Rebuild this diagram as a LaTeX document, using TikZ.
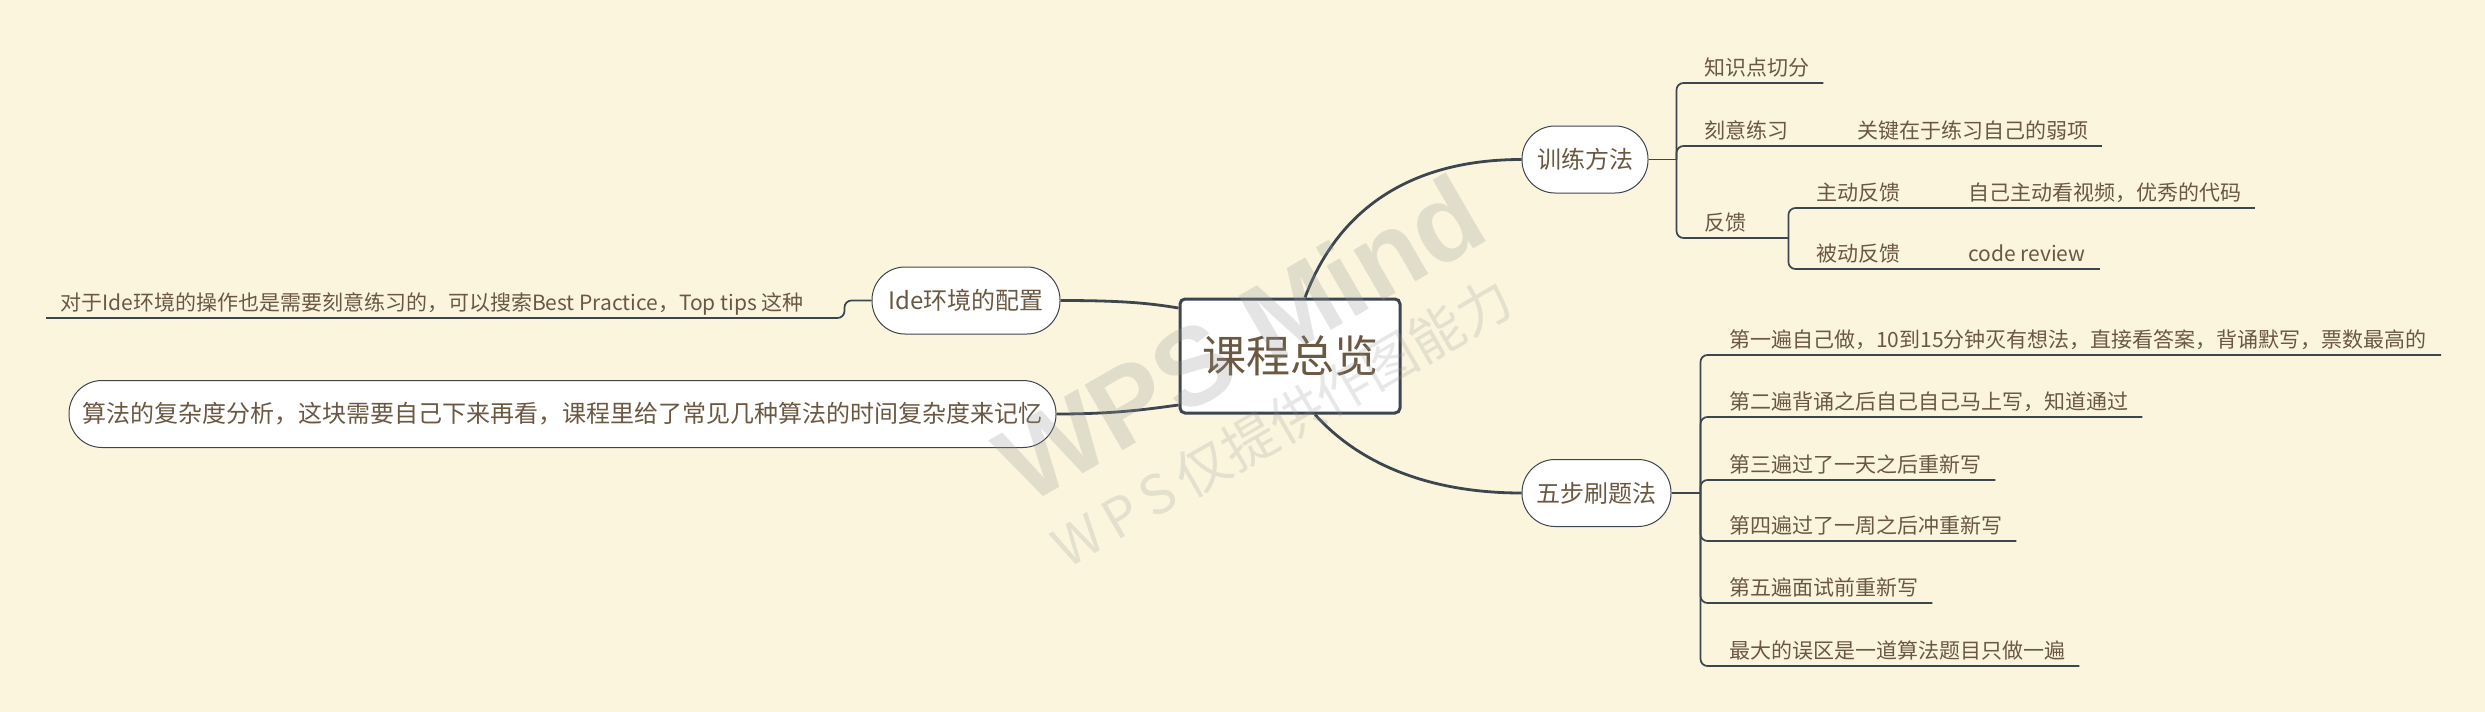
\documentclass[tikz,border=0pt]{standalone}
\usepackage{fontspec}
\setmainfont{Noto Sans CJK SC}
\newfontfamily\wmfont{Liberation Sans}
\usetikzlibrary{calc}
\definecolor{bg}{HTML}{FBF5DE}
\definecolor{ink}{HTML}{6B5842}
\definecolor{ln}{HTML}{3D464E}
\definecolor{wmc}{HTML}{969696}
\begin{document}
\begin{tikzpicture}[x=1pt,y=-1pt,
  every node/.style={text=ink},
  root/.style={draw=ln, line width=3pt, fill=white, rounded corners=5pt, minimum width=220pt, minimum height=114pt, inner sep=0pt, font=\fontsize{44}{50}\selectfont},
  topic/.style={draw=ln, line width=1pt, fill=white, rounded corners=33pt, minimum height=67pt, inner sep=0pt, font=\fontsize{24}{28}\selectfont},
  leaf/.style={inner xsep=14pt, inner ysep=7pt, text depth=0pt, font=\fontsize{21}{25}\selectfont, anchor=south west},
  main/.style={draw=ln, line width=2.8pt},
  sub/.style={draw=ln, line width=1.7pt, rounded corners=7pt},
  wmbig/.style={rotate=30, text=wmc, text opacity=0.25, font=\wmfont\bfseries\fontsize{110}{110}\selectfont},
  wmsmall/.style={rotate=30, text=wmc, text opacity=0.22, font=\fontsize{54}{60}\selectfont},
]
\fill[bg] (0,0) rectangle (2485,712);
\useasboundingbox (0,0) rectangle (2485,712);

% central and main topics
\node[root] (root) at (1290,356) {课程总览};
\node[topic, minimum width=126pt] (t1) at (1585,159.5) {训练方法};
\node[topic, minimum width=149pt] (t2) at (1596.5,493) {五步刷题法};
\node[topic, minimum width=188pt] (t3) at (966,300.5) {Ide环境的配置};
\node[topic, minimum width=987pt] (t4) at (562.5,414) {算法的复杂度分析，这块需要自己下来再看，课程里给了常见几种算法的时间复杂度来记忆};

% main connectors
\draw[main] ($(root.north)+(15,0)$) .. controls +(18,-48) and +(-150,0) .. (t1.west);
\draw[main] ($(root.south)+(25,0)$) .. controls +(25,28) and +(-122,0) .. (t2.west);
\draw[main] (t3.east) .. controls +(60,0) and +(-30,-5) .. ($(root.west)+(0,-48)$);
\draw[main] (t4.east) .. controls +(60,0) and +(-30,4) .. ($(root.west)+(0,49)$);

% tree of 训练方法
\coordinate (s1) at ($(t1.east)+(28,0)$);
\draw[sub] (t1.east) -- (s1);
\node[leaf] (k1) at (1690,83) {知识点切分};
\node[leaf] (k2) at (1690,146) {刻意练习};
\node[leaf] (k2a) at (1843,146) {关键在于练习自己的弱项};
\node[leaf] (k3) at (1690,238) {反馈};
\coordinate (s3) at ($(k3.south east)+(28,0)$);
\node[leaf] (k3a) at (1802,208) {主动反馈};
\node[leaf] (k3aa) at (1954,208) {自己主动看视频，优秀的代码};
\node[leaf] (k3b) at (1802,269) {被动反馈};
\node[leaf] (k3ba) at (1954,269) {code review};
\draw[sub] (s1) |- (k1.south east);
\draw[sub] (s1) |- (k2.south east);
\draw[sub] (k2.south east) -- (k2a.south east);
\draw[sub] (s1) |- (k3.south east) -- (s3);
\draw[sub] (s3) |- (k3a.south east);
\draw[sub] (k3a.south east) -- (k3aa.south east);
\draw[sub] (s3) |- (k3b.south east);
\draw[sub] (k3b.south east) -- (k3ba.south east);

% tree of 五步刷题法
\coordinate (s2) at ($(t2.east)+(29,0)$);
\draw[sub] (t2.east) -- (s2);
\node[leaf] (f1) at (1715,355) {第一遍自己做，10到15分钟灭有想法，直接看答案，背诵默写，票数最高的};
\node[leaf] (f2) at (1715,417) {第二遍背诵之后自己自己马上写，知道通过};
\node[leaf] (f3) at (1715,480) {第三遍过了一天之后重新写};
\node[leaf] (f4) at (1715,541) {第四遍过了一周之后冲重新写};
\node[leaf] (f5) at (1715,603) {第五遍面试前重新写};
\node[leaf] (f6) at (1715,666) {最大的误区是一道算法题目只做一遍};
\foreach \f in {f1,f2,f3,f4,f5,f6} \draw[sub] (s2) |- (\f.south east);

% tree of Ide环境的配置
\node[leaf] (l1) at (46,318) {对于Ide环境的操作也是需要刻意练习的，可以搜索Best Practice，Top tips 这种};
\draw[sub] (t3.west) -- ++(-27,0) |- (l1.south west);

% watermark
\node[wmbig] (wm1) at (1240,338) {WPS Mind};
\node[wmsmall] (wm2) at (1282,422) {W\,P\,S\,仅提供作图能力};
\end{tikzpicture}
\end{document}
